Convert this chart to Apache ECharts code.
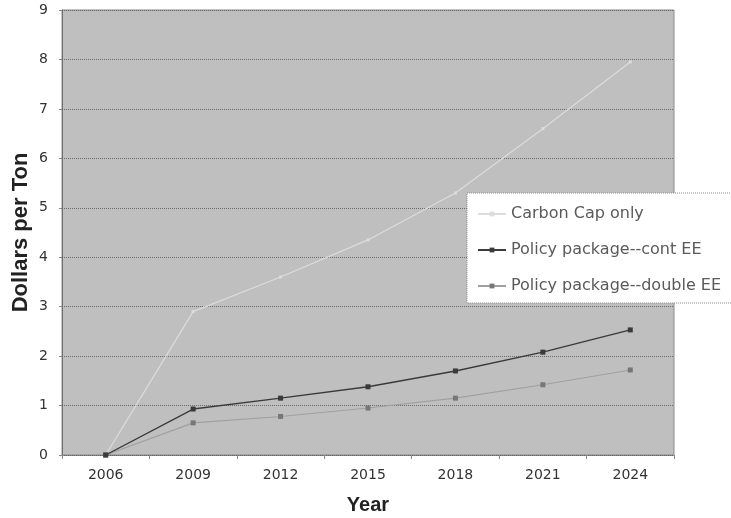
<!DOCTYPE html>
<html>
<head>
<meta charset="utf-8">
<script src="https://cdn.jsdelivr.net/npm/echarts@6/dist/echarts.min.js"></script>
<style>
  html, body { margin: 0; padding: 0; background: #ffffff; }
  #chart { width: 731px; height: 518px; }
</style>
</head>
<body>
<div id="chart"></div>
<script>
// Carbon price paths, dollars per ton
const years = ['2006', '2009', '2012', '2015', '2018', '2021', '2024'];
const carbonCapOnly = [0, 2.9, 3.6, 4.35, 5.3, 6.6, 7.95];
const policyContEE = [0, 0.93, 1.15, 1.38, 1.70, 2.08, 2.53];
const policyDoubleEE = [0, 0.65, 0.78, 0.95, 1.15, 1.42, 1.72];
const yTicks = { min: 0, max: 9, interval: 1 };

const chart = echarts.init(document.getElementById('chart'), null, { renderer: 'canvas' });

const tickFont = 'DejaVu Sans, Verdana, sans-serif';
const titleFont = 'Liberation Sans, Arial, sans-serif';

chart.setOption({
  backgroundColor: '#ffffff',
  animation: false,
  grid: {
    left: 62, right: 57, top: 10, bottom: 63,
    outerBoundsMode: 'none',
    containLabel: false,
    show: true,
    backgroundColor: '#bfbfbf',
    borderColor: '#8a8a8a',
    borderWidth: 1
  },
  legend: {
    orient: 'vertical',
    left: 467, top: 193,
    padding: [13, 16, 9, 10],
    itemGap: 20,
    itemWidth: 28,
    itemHeight: 6,
    backgroundColor: '#ffffff',
    borderColor: '#8a8a8a',
    borderWidth: 1,
    borderType: 'dotted',
    textStyle: { fontFamily: tickFont, fontSize: 16, color: '#5a5a5a' },
    data: ['Carbon Cap only', 'Policy package--cont EE', 'Policy package--double EE']
  },
  xAxis: {
    type: 'category',
    data: years,
    boundaryGap: true,
    name: 'Year',
    nameLocation: 'middle',
    nameGap: 40,
    nameTextStyle: { fontFamily: titleFont, fontSize: 20, fontWeight: 'bold', color: '#222222' },
    axisLine: { lineStyle: { color: '#666666', type: 'dotted' } },
    axisTick: { show: true, length: 4, lineStyle: { color: '#888888' } },
    axisLabel: { fontFamily: tickFont, fontSize: 14, color: '#333333', margin: 13 },
    splitLine: { show: false }
  },
  yAxis: {
    type: 'value',
    min: yTicks.min,
    max: yTicks.max,
    interval: yTicks.interval,
    name: 'Dollars per Ton',
    nameLocation: 'middle',
    nameGap: 30,
    nameMoveOverlap: false,
    nameTextStyle: { fontFamily: titleFont, fontSize: 22, fontWeight: 'bold', color: '#222222' },
    axisLine: { show: true, lineStyle: { color: '#666666', type: 'dotted' } },
    axisTick: { show: true, length: 3, lineStyle: { color: '#888888' } },
    axisLabel: { fontFamily: tickFont, fontSize: 14, color: '#333333', margin: 14 },
    splitLine: { show: true, lineStyle: { color: '#6a6a6a', type: 'dotted', width: 1 } }
  },
  series: [
    {
      name: 'Carbon Cap only',
      type: 'line',
      data: carbonCapOnly,
      symbol: 'rect',
      symbolSize: 3,
      itemStyle: { color: '#dcdcdc' },
      lineStyle: { color: '#dcdcdc', width: 1.2 },
      z: 3
    },
    {
      name: 'Policy package--cont EE',
      type: 'line',
      data: policyContEE,
      symbol: 'rect',
      symbolSize: 5,
      itemStyle: { color: '#3a3a3a' },
      lineStyle: { color: '#3a3a3a', width: 1.4 },
      z: 4
    },
    {
      name: 'Policy package--double EE',
      type: 'line',
      data: policyDoubleEE,
      symbol: 'rect',
      symbolSize: 5,
      itemStyle: { color: '#777777' },
      lineStyle: { color: '#a0a0a0', width: 1.1 },
      z: 3
    }
  ]
});
</script>
</body>
</html>
